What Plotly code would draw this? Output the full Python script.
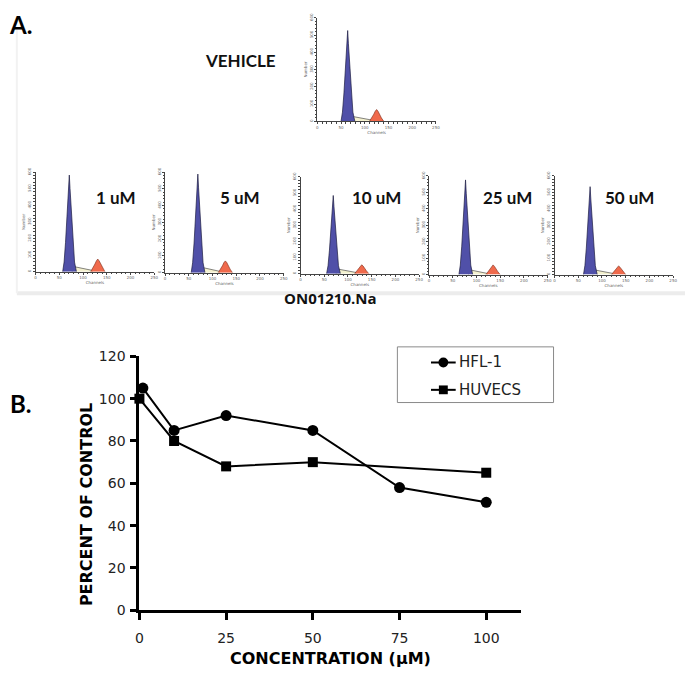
import plotly.graph_objects as go

# ---------------- Panel B data ----------------
conc_hfl = [1, 10, 25, 50, 75, 100]
pct_hfl = [105, 85, 92, 85, 58, 51]
conc_huv = [0, 10, 25, 50, 100]
pct_huv = [100, 80, 68, 70, 65]
x_ticks = [0, 25, 50, 75, 100]
y_ticks = [0, 20, 40, 60, 80, 100, 120]
series_names = ["HFL-1", "HUVECS"]

# ---------------- Panel A data (cell-cycle histograms) ----------------
hist_labels = ["VEHICLE", "1 uM", "5 uM", "10 uM", "25 uM", "50 uM"]

veh_g1_ch = [50, 53, 56, 59, 61, 62.5, 64, 65.5, 67, 69, 72, 75, 79]
veh_g1_ct = [0, 53, 158, 289, 379, 452, 526, 452, 379, 289, 158, 53, 0]
veh_g2_ch = [110, 115, 119, 122, 125, 128, 131, 135, 140]
veh_g2_ct = [0, 20, 41, 58, 68, 58, 41, 20, 0]
veh_s_ch = [70, 78, 90, 102, 113]
veh_s_ct = [30, 26, 20, 14, 8]

u1_g1_ch = [57, 60, 63, 66, 68, 69.5, 71, 72.5, 74, 76, 79, 82, 86]
u1_g1_ct = [0, 58, 175, 320, 419, 501, 582, 501, 419, 320, 175, 58, 0]
u1_g2_ch = [116, 121, 125, 128, 131, 134, 137, 141, 146]
u1_g2_ct = [0, 23, 46, 65, 76, 65, 46, 23, 0]
u1_s_ch = [77, 85, 97, 108, 119]
u1_s_ct = [32, 28, 21, 14, 8]

u5_g1_ch = [55, 58, 61, 64, 66, 67.5, 69, 70.5, 72, 74, 77, 80, 84]
u5_g1_ct = [0, 59, 176, 323, 423, 506, 588, 506, 423, 323, 176, 59, 0]
u5_g2_ch = [112, 117, 121, 124, 127, 130, 133, 137, 142]
u5_g2_ct = [0, 21, 42, 60, 70, 60, 42, 21, 0]
u5_s_ch = [75, 83, 94, 105, 115]
u5_s_ct = [32, 28, 21, 14, 8]

u10_g1_ch = [55, 58, 61, 64, 66, 67.5, 69, 70.5, 72, 74, 77, 80, 84]
u10_g1_ct = [0, 49, 146, 267, 349, 417, 485, 417, 349, 267, 146, 49, 0]
u10_g2_ch = [114, 119, 123, 126, 129, 132, 135, 139, 144]
u10_g2_ct = [0, 17, 33, 47, 55, 47, 33, 17, 0]
u10_s_ch = [75, 83, 95, 106, 117]
u10_s_ct = [30, 26, 20, 13, 7]

u25_g1_ch = [63, 66, 69, 72, 74, 75.5, 77, 78.5, 80, 82, 85, 88, 92]
u25_g1_ct = [0, 58, 173, 317, 415, 495, 576, 495, 415, 317, 173, 58, 0]
u25_g2_ch = [120, 125, 129, 132, 135, 138, 141, 145, 150]
u25_g2_ct = [0, 18, 35, 50, 59, 50, 35, 18, 0]
u25_s_ch = [83, 91, 102, 113, 123]
u25_s_ct = [30, 26, 20, 13, 7]

u50_g1_ch = [61, 64, 67, 70, 72, 73.5, 75, 76.5, 78, 80, 83, 86, 90]
u50_g1_ct = [0, 54, 161, 294, 385, 460, 535, 460, 385, 294, 161, 54, 0]
u50_g2_ch = [120, 125, 129, 132, 135, 138, 141, 145, 150]
u50_g2_ct = [0, 16, 32, 45, 53, 45, 32, 16, 0]
u50_s_ch = [81, 89, 101, 112, 123]
u50_s_ct = [30, 26, 20, 13, 7]

g1_peak_ch = [64, 71, 69, 69, 77, 75]
hist_x_ticks = [0, 50, 100, 150, 200, 250]
hist_y_ticks = [0, 100, 200, 300, 400, 500, 600]

G1 = [(veh_g1_ch, veh_g1_ct), (u1_g1_ch, u1_g1_ct), (u5_g1_ch, u5_g1_ct),
      (u10_g1_ch, u10_g1_ct), (u25_g1_ch, u25_g1_ct), (u50_g1_ch, u50_g1_ct)]
G2 = [(veh_g2_ch, veh_g2_ct), (u1_g2_ch, u1_g2_ct), (u5_g2_ch, u5_g2_ct),
      (u10_g2_ch, u10_g2_ct), (u25_g2_ch, u25_g2_ct), (u50_g2_ch, u50_g2_ct)]
SPH = [(veh_s_ch, veh_s_ct), (u1_s_ch, u1_s_ct), (u5_s_ch, u5_s_ct),
       (u10_s_ch, u10_s_ct), (u25_s_ch, u25_s_ct), (u50_s_ch, u50_s_ct)]

W, H = 689, 683


def px(x):
    return x / W


def py(y):
    return 1 - y / H


fig = go.Figure()

# ---------------- Panel B ----------------
fig.add_trace(go.Scatter(
    x=conc_hfl, y=pct_hfl, mode="lines+markers", name=series_names[0],
    line=dict(color="black", width=2),
    marker=dict(symbol="circle", size=11, color="black"),
    cliponaxis=False, showlegend=False, xaxis="x", yaxis="y"))
fig.add_trace(go.Scatter(
    x=conc_huv, y=pct_huv, mode="lines+markers", name=series_names[1],
    line=dict(color="black", width=2),
    marker=dict(symbol="square", size=10, color="black"),
    cliponaxis=False, showlegend=False, xaxis="x", yaxis="y"))

tickfont = dict(family="DejaVu Sans", size=14, color="#222")
titlefont = dict(family="DejaVu Sans", size=16, color="black")

layout = dict(
    width=W, height=H,
    margin=dict(l=0, r=0, t=0, b=0),
    paper_bgcolor="white", plot_bgcolor="rgba(0,0,0,0)",
    showlegend=False,
    xaxis=dict(domain=[px(137), px(523)], range=[0, 110], tickvals=x_ticks,
               ticks="outside", ticklen=7, tickwidth=3, tickcolor="black",
               showline=True, linewidth=3, linecolor="black",
               showgrid=False, zeroline=False, tickfont=tickfont,
               ticklabelstandoff=6, anchor="y"),
    yaxis=dict(domain=[py(616.7), py(356.7)], range=[0, 120], tickvals=y_ticks,
               ticks="outside", ticklen=6, tickwidth=3, tickcolor="black",
               showline=True, linewidth=3, linecolor="black",
               showgrid=False, zeroline=False, tickfont=tickfont,
               ticklabelstandoff=2, anchor="x"),
)

# ---------------- Panel A mini histograms ----------------
mini_left = [317, 32, 163, 300, 430, 557]
mini_base = [116, 270, 271, 272, 273, 273]
mini_top = [10, 168, 168, 173, 172, 172]
mini_w = 120
mini_font = dict(family="DejaVu Sans", size=4, color="#666")

for i in range(6):
    n = i + 2
    xa, ya = f"x{n}", f"y{n}"
    layout[f"xaxis{n}"] = dict(
        domain=[px(mini_left[i]), px(mini_left[i] + mini_w)], range=[0, 250],
        anchor=ya, tickvals=hist_x_ticks, ticks="outside", ticklen=2, tickwidth=0.6,
        tickcolor="#444", showline=True, linewidth=0.8, linecolor="#444",
        showgrid=False, zeroline=False, tickfont=mini_font,
        minor=dict(ticks="outside", ticklen=1.5, tickwidth=0.5, tickcolor="#444", dtick=10),
        title=dict(text="Channels", font=mini_font, standoff=0))
    layout[f"yaxis{n}"] = dict(
        domain=[py(mini_base[i]), py(mini_top[i])], range=[0, 600],
        anchor=xa, tickvals=hist_y_ticks, ticks="outside", ticklen=2, tickwidth=0.6,
        tickcolor="#444", showline=True, linewidth=0.8, linecolor="#444",
        showgrid=False, zeroline=False, tickfont=mini_font, tickangle=-90,
        minor=dict(ticks="outside", ticklen=1.5, tickwidth=0.5, tickcolor="#444", dtick=20),
        title=dict(text="Number", font=mini_font, standoff=1))

    sx, sy = SPH[i]
    fig.add_trace(go.Scatter(
        x=[sx[0]] + sx + [sx[-1]], y=[0] + sy + [0], mode="lines", fill="toself",
        fillcolor="#f4f1cf", line=dict(color="#333", width=0.6),
        xaxis=xa, yaxis=ya, showlegend=False, hoverinfo="skip"))
    gx, gy = G1[i]
    fig.add_trace(go.Scatter(
        x=gx, y=gy, mode="lines", fill="toself", fillcolor="#5050a8",
        line=dict(color="#1c1c40", width=0.7),
        xaxis=xa, yaxis=ya, showlegend=False, hoverinfo="skip"))
    rx, ry = G2[i]
    fig.add_trace(go.Scatter(
        x=rx, y=ry, mode="lines", fill="toself", fillcolor="#f06a4c",
        line=dict(color="#7a2a18", width=0.6),
        xaxis=xa, yaxis=ya, showlegend=False, hoverinfo="skip"))
    fig.add_trace(go.Scatter(
        x=[g1_peak_ch[i]], y=[-18], mode="markers",
        marker=dict(symbol="triangle-up", size=5, color="black"),
        cliponaxis=False, xaxis=xa, yaxis=ya, showlegend=False, hoverinfo="skip"))

# ---------------- shapes: panel A frame shadow + legend ----------------
shapes = [
    dict(type="line", xref="paper", yref="paper", x0=px(13), x1=px(689),
         y0=py(292), y1=py(292), line=dict(color="#ececec", width=4), layer="below"),
    dict(type="line", xref="paper", yref="paper", x0=px(13), x1=px(13),
         y0=py(22), y1=py(292), line=dict(color="#f2f2f2", width=2), layer="below"),
    # legend box
    dict(type="rect", xref="paper", yref="paper", x0=px(398), x1=px(556),
         y0=py(404), y1=py(347), line=dict(color="#8a8a8a", width=1)),
    dict(type="line", xref="paper", yref="paper", x0=px(432), x1=px(457),
         y0=py(363), y1=py(363), line=dict(color="black", width=2)),
    dict(type="circle", xref="paper", yref="paper", x0=px(439.5), x1=px(449.5),
         y0=py(368), y1=py(358), fillcolor="black", line=dict(color="black", width=0)),
    dict(type="line", xref="paper", yref="paper", x0=px(432), x1=px(457),
         y0=py(391), y1=py(391), line=dict(color="black", width=2)),
    dict(type="rect", xref="paper", yref="paper", x0=px(440), x1=px(449),
         y0=py(395.5), y1=py(386.5), fillcolor="black", line=dict(color="black", width=0)),
]
layout["shapes"] = shapes

lab_font = dict(family="Lato", size=17, color="#111")
annotations = [
    dict(text="<b>A.</b>", x=px(3), y=py(17), xanchor="left", yanchor="middle",
         font=dict(family="Lato", size=24, color="black")),
    dict(text="<b>B.</b>", x=px(4), y=py(405), xanchor="left", yanchor="middle",
         font=dict(family="Lato", size=24, color="black")),
    dict(text="<b>" + hist_labels[0] + "</b>", x=px(239), y=py(54), font=lab_font),
    dict(text="<b>" + hist_labels[1] + "</b>", x=px(113), y=py(194), font=lab_font),
    dict(text="<b>" + hist_labels[2] + "</b>", x=px(239), y=py(194), font=lab_font),
    dict(text="<b>" + hist_labels[3] + "</b>", x=px(377), y=py(194), font=lab_font),
    dict(text="<b>" + hist_labels[4] + "</b>", x=px(509), y=py(194), font=lab_font),
    dict(text="<b>" + hist_labels[5] + "</b>", x=px(633), y=py(194), font=lab_font),
    dict(text="<b>ON01210.Na</b>", x=px(330), y=py(297),
         font=dict(family="Open Sans", size=15, color="#111")),
    dict(text=series_names[0], x=px(458), y=py(363), xanchor="left",
         font=dict(family="DejaVu Sans", size=15, color="#222")),
    dict(text=series_names[1], x=px(458), y=py(391), xanchor="left",
         font=dict(family="DejaVu Sans", size=15, color="#222")),
    # axis titles of panel B
    dict(text="<b>CONCENTRATION (μM)</b>", x=px(330), y=py(666), font=titlefont),
    dict(text="<b>PERCENT OF CONTROL</b>", x=px(83), y=py(509), textangle=-90,
         font=titlefont),
]
for a in annotations:
    a.update(xref="paper", yref="paper", showarrow=False)
    a.setdefault("xanchor", "center")
    a.setdefault("yanchor", "middle")
layout["annotations"] = annotations

fig.update_layout(**layout)
fig.write_html("out.html", config={"displayModeBar": False},
               post_script="document.body.style.margin='0';document.body.style.overflow='hidden';")
